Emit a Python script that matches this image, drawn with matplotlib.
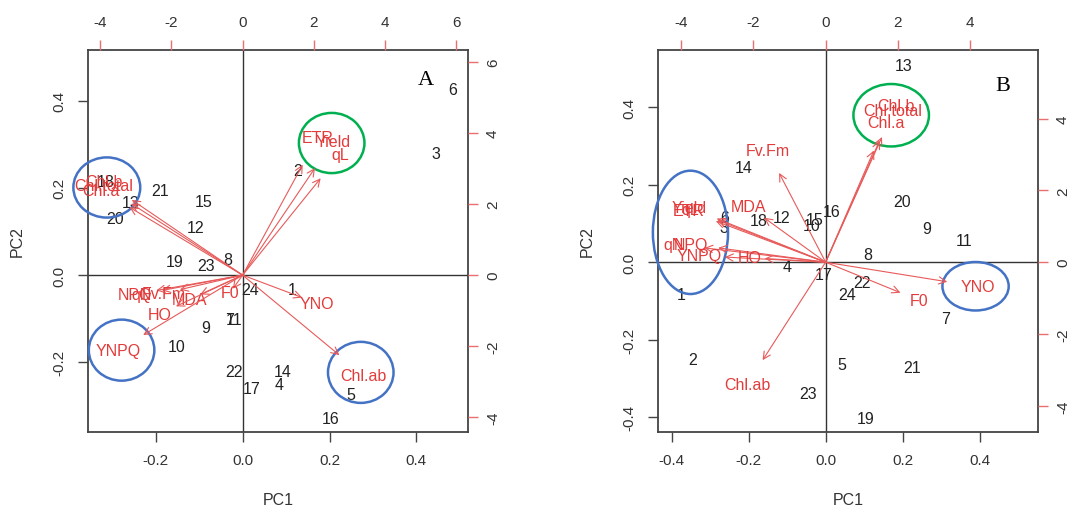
import matplotlib.pyplot as plt
from matplotlib.patches import Ellipse

plt.rcParams['font.family'] = ['Liberation Sans', 'DejaVu Sans']
plt.rcParams['font.size'] = 11
plt.rcParams['axes.unicode_minus'] = False

# Panel A - sample scores (PC1, PC2), samples 1..24
obs = [str(i) for i in range(1, 25)]
pc1_a = [0.114, 0.126, 0.444, 0.084, 0.249, 0.484, -0.030, -0.035, -0.086, -0.153, -0.020, -0.109,
         -0.258, 0.093, -0.091, 0.202, 0.021, -0.316, -0.156, -0.295, -0.191, -0.021, -0.084, 0.016]
pc2_a = [-0.032, 0.239, 0.280, -0.251, -0.274, 0.425, -0.101, 0.037, -0.120, -0.163, -0.101, 0.110,
         0.166, -0.220, 0.170, -0.329, -0.260, 0.214, 0.032, 0.129, 0.193, -0.220, 0.021, -0.032]

# Panel A - variable loadings
vars_a = ['ETR', 'Yield', 'qL', 'Chl.b', 'Chl.total', 'Chl.a', 'NPQ', 'qN', 'Fv.Fm', 'MDA', 'HO',
          'F0', 'YNPQ', 'YNO', 'Chl.ab']
load1_a = [2.11, 2.54, 2.74, -3.89, -3.91, -3.97, -3.03, -2.83, -2.20, -1.49, -2.34, -0.34, -3.49, 2.09, 3.40]
load2_a = [3.89, 3.77, 3.41, 2.65, 2.52, 2.39, -0.54, -0.54, -0.51, -0.68, -1.10, -0.48, -2.11, -0.79, -2.82]

# Panel B - sample scores
pc1_b = [-0.376, -0.346, -0.263, -0.101, 0.041, -0.261, 0.312, 0.110, 0.263, -0.037, 0.359, -0.115,
         0.202, -0.212, -0.029, 0.015, -0.005, -0.174, 0.103, 0.197, 0.224, 0.095, -0.045, 0.055]
pc2_b = [-0.083, -0.252, 0.090, -0.010, -0.263, 0.115, -0.145, 0.021, 0.087, 0.094, 0.055, 0.115,
         0.507, 0.244, 0.111, 0.131, -0.031, 0.107, -0.403, 0.156, -0.272, -0.052, -0.338, -0.083]

# Panel B - variable loadings
vars_b = ['Chl.b', 'Chl.total', 'Chl.a', 'Fv.Fm', 'MDA', 'Yield', 'ETR', 'qL', 'qN', 'NPQ', 'YNPQ',
          'HO', 'F0', 'YNO', 'Chl.ab']
load1_b = [1.95, 1.87, 1.67, -1.61, -2.13, -3.77, -3.80, -3.75, -4.20, -3.72, -3.49, -2.11, 2.59, 4.21, -2.18]
load2_b = [4.36, 4.24, 3.89, 3.11, 1.55, 1.52, 1.43, 1.47, 0.50, 0.50, 0.18, 0.13, -1.06, -0.68, -3.41]

# highlight rings drawn over the plots: (pc1, pc2, width, height, colour)
rings_a = [(-0.313, 0.201, 0.154, 0.138, '#4472c4'), (0.205, 0.303, 0.151, 0.138, '#00b050'),
           (-0.279, -0.172, 0.151, 0.140, '#4472c4'), (0.272, -0.223, 0.151, 0.140, '#4472c4')]
rings_b = [(0.170, 0.379, 0.196, 0.161, '#00b050'), (-0.351, 0.077, 0.195, 0.318, '#4472c4'),
           (0.389, -0.062, 0.172, 0.125, '#4472c4')]

RED = '#e23b3b'
ARROW = '#e85a5a'
GRAY = '#333333'


def biplot(rect, pc1, pc2, names, l1, l2, lim, lim2, ticks, ticks2, tag, tagpos, rings):
    ax = fig.add_axes(rect)
    ax2 = fig.add_axes(rect, frameon=False)

    ax.set_xlim(lim[0], lim[1])
    ax.set_ylim(lim[2], lim[3])
    ax2.set_xlim(lim2[0], lim2[1])
    ax2.set_ylim(lim2[2], lim2[3])

    ax.axhline(0, color=GRAY, lw=1)
    ax.axvline(0, color=GRAY, lw=1)

    for name, x, y in zip(obs, pc1, pc2):
        ax.text(x, y, name, ha='center', va='center', color='#222222', fontsize=11.5)

    for name, x, y in zip(names, l1, l2):
        ax2.annotate('', xy=(0.8 * x, 0.8 * y), xytext=(0, 0),
                     arrowprops=dict(arrowstyle='->', color=ARROW, lw=0.8,
                                     mutation_scale=13, shrinkA=0, shrinkB=0))
        ax2.text(x, y, name, ha='center', va='center', color=RED, fontsize=11.5)

    # axes styling (R-like)
    for s in ax.spines.values():
        s.set_color('#444444')
        s.set_linewidth(1.3)
    ax.set_xticks(ticks)
    ax.set_yticks(ticks)
    ax.set_xticklabels(['%.1f' % t for t in ticks])
    ax.set_yticklabels(['%.1f' % t for t in ticks], rotation=90, va='center')
    ax.tick_params(length=7, width=1, color='#444444', labelcolor=GRAY, pad=8, labelsize=11)

    ax2.xaxis.tick_top()
    ax2.yaxis.tick_right()
    ax2.set_xticks(ticks2)
    ax2.set_yticks(ticks2)
    ax2.set_xticklabels(['%d' % t for t in ticks2])
    ax2.set_yticklabels(['%d' % t for t in ticks2], rotation=90, va='center')
    ax2.tick_params(length=7, width=1, color='#e87070', labelcolor=GRAY, pad=8, labelsize=11)
    ax2.tick_params(axis='y', pad=6)

    ax.set_xlabel('PC1', color=GRAY, fontsize=11.5, labelpad=18)
    ax.set_ylabel('PC2', color=GRAY, fontsize=11.5, labelpad=20)

    ax2.text(tagpos[0], tagpos[1], tag, transform=ax2.transAxes, ha='center', va='center',
             fontsize=16, family='Liberation Serif', color='black')

    for cx, cy, w, h, c in rings:
        ax.add_patch(Ellipse((cx, cy), w, h, fill=False, edgecolor=c, lw=1.8,
                             clip_on=False, zorder=5))
    return ax, ax2


fig = plt.figure(figsize=(10.67, 5.10), dpi=100)

biplot([0.0822, 0.1516, 0.3564, 0.749], pc1_a, pc2_a, vars_a, load1_a, load2_a,
       (-0.357, 0.519, -0.359, 0.517), (-4.35, 6.33, -4.41, 6.35),
       [-0.2, 0.0, 0.2, 0.4], [-4, -2, 0, 2, 4, 6], 'A', (0.889, 0.923), rings_a)

biplot([0.6164, 0.1516, 0.3564, 0.749], pc1_b, pc2_b, vars_b, load1_b, load2_b,
       (-0.436, 0.551, -0.437, 0.548), (-4.65, 5.88, -4.72, 5.92),
       [-0.4, -0.2, 0.0, 0.2, 0.4], [-4, -2, 0, 2, 4], 'B', (0.908, 0.906), rings_b)

fig.savefig('out.png', dpi=100, facecolor='white')
